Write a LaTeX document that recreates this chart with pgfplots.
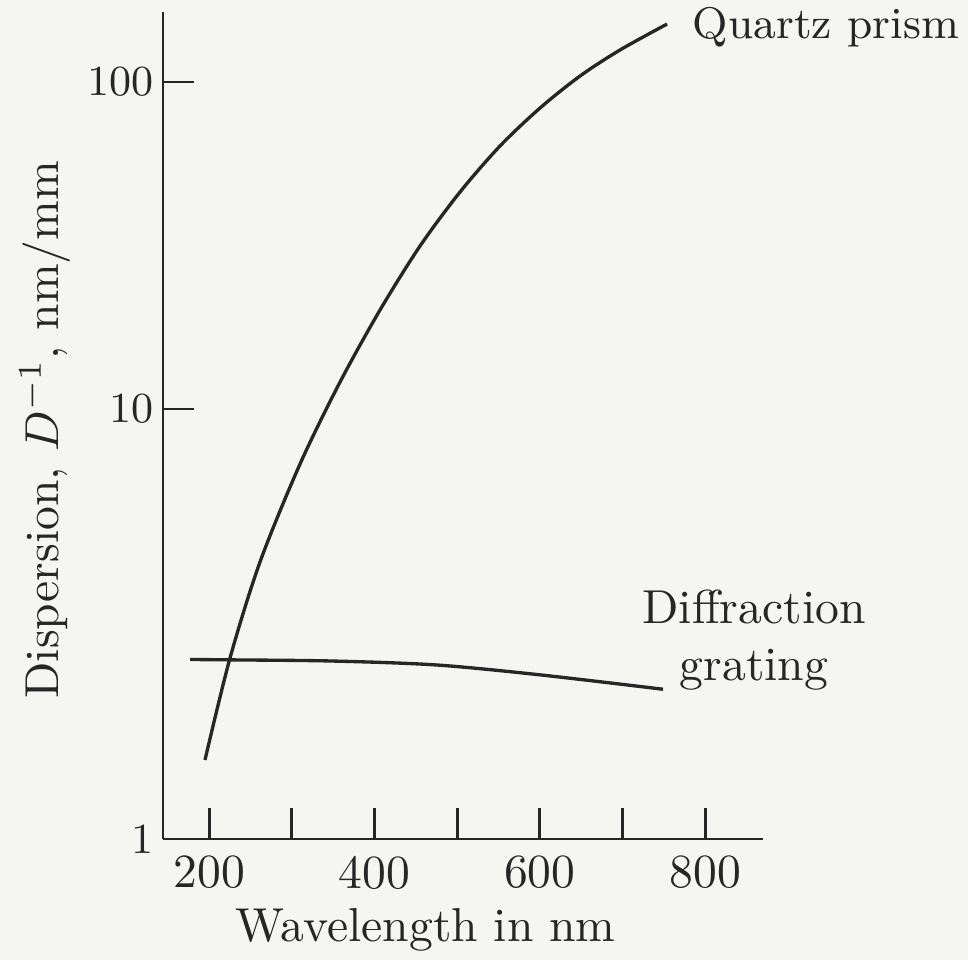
\documentclass[border=0pt]{standalone}
\usepackage{pgfplots}
\pgfplotsset{compat=1.18}
\definecolor{paper}{RGB}{245,245,241}
\definecolor{ink}{RGB}{38,38,38}

% the printed log scale is uneven: decade 1-10 is drawn taller than decade 10-100
\pgfplotsset{
  dispersion scale/.style={
    y coord trafo/.code={\pgfmathparse{ifthenelse(##1>=10, log10(##1), 1-(1-log10(##1))*1.315)}},
    y coord inv trafo/.code={\pgfmathparse{ifthenelse(##1>=1, 10^(##1), 10^(1-(1-##1)/1.315))}},
  }
}

\begin{document}
\begin{tikzpicture}[x=1pt,y=1pt]
\useasboundingbox[fill=paper] (-34.23,-25.41) rectangle (169.05,176.19);
\begin{axis}[
  scale only axis, width=126pt, height=173.67pt,
  axis lines=left, axis line style={ink, line width=0.6pt, -},
  xmin=144, xmax=870, ymin=1, ymax=163.7,
  dispersion scale,
  xtick={200,300,...,800}, xticklabels={200,,400,,600,,800},
  ytick={10,100}, yticklabels={10,100},
  extra y ticks={1}, extra y tick labels={1},
  extra y tick style={major tick length=0pt},
  tick align=inside, major tick length=6.5pt,
  tick style={ink, line width=0.6pt},
  ticklabel style={ink},
  yticklabel style={inner xsep=1.7pt, font=\fontsize{9}{11}\selectfont},
  xlabel={Wavelength in nm},
  ylabel={Dispersion, $D^{-1}$, nm/mm},
  xlabel style={at={(axis description cs:0.438,-0.11)}, anchor=center, ink},
  ylabel style={at={(axis description cs:-0.197,0.495)}, anchor=center, ink},
  clip=false,
]
% quartz prism
\addplot[ink, line width=0.7pt, smooth] coordinates {
  (194.8,1.527) (225.1,2.636) (261.4,4.41) (309.8,7.45) (358.2,12.09)
  (406.6,20.08) (455.0,31.51) (503.4,46.09) (551.8,63.74) (600.2,83.26)
  (648.6,104.3) (697.0,125.3) (753.9,150.4)
};
% diffraction grating
\addplot[ink, line width=0.7pt, smooth] coordinates {
  (176.7,2.615) (223.9,2.61) (348.5,2.594) (474.3,2.54) (599.0,2.41) (749.0,2.23)
};
\node[anchor=west, inner xsep=0pt, ink, font=\fontsize{9.3}{11}\selectfont]
  at (rel axis cs:0.8817,0.982) {Quartz prism};
\node[align=center, ink] at (rel axis cs:0.985,0.2406) {Diffraction\\grating};
\end{axis}
\end{tikzpicture}
\end{document}
